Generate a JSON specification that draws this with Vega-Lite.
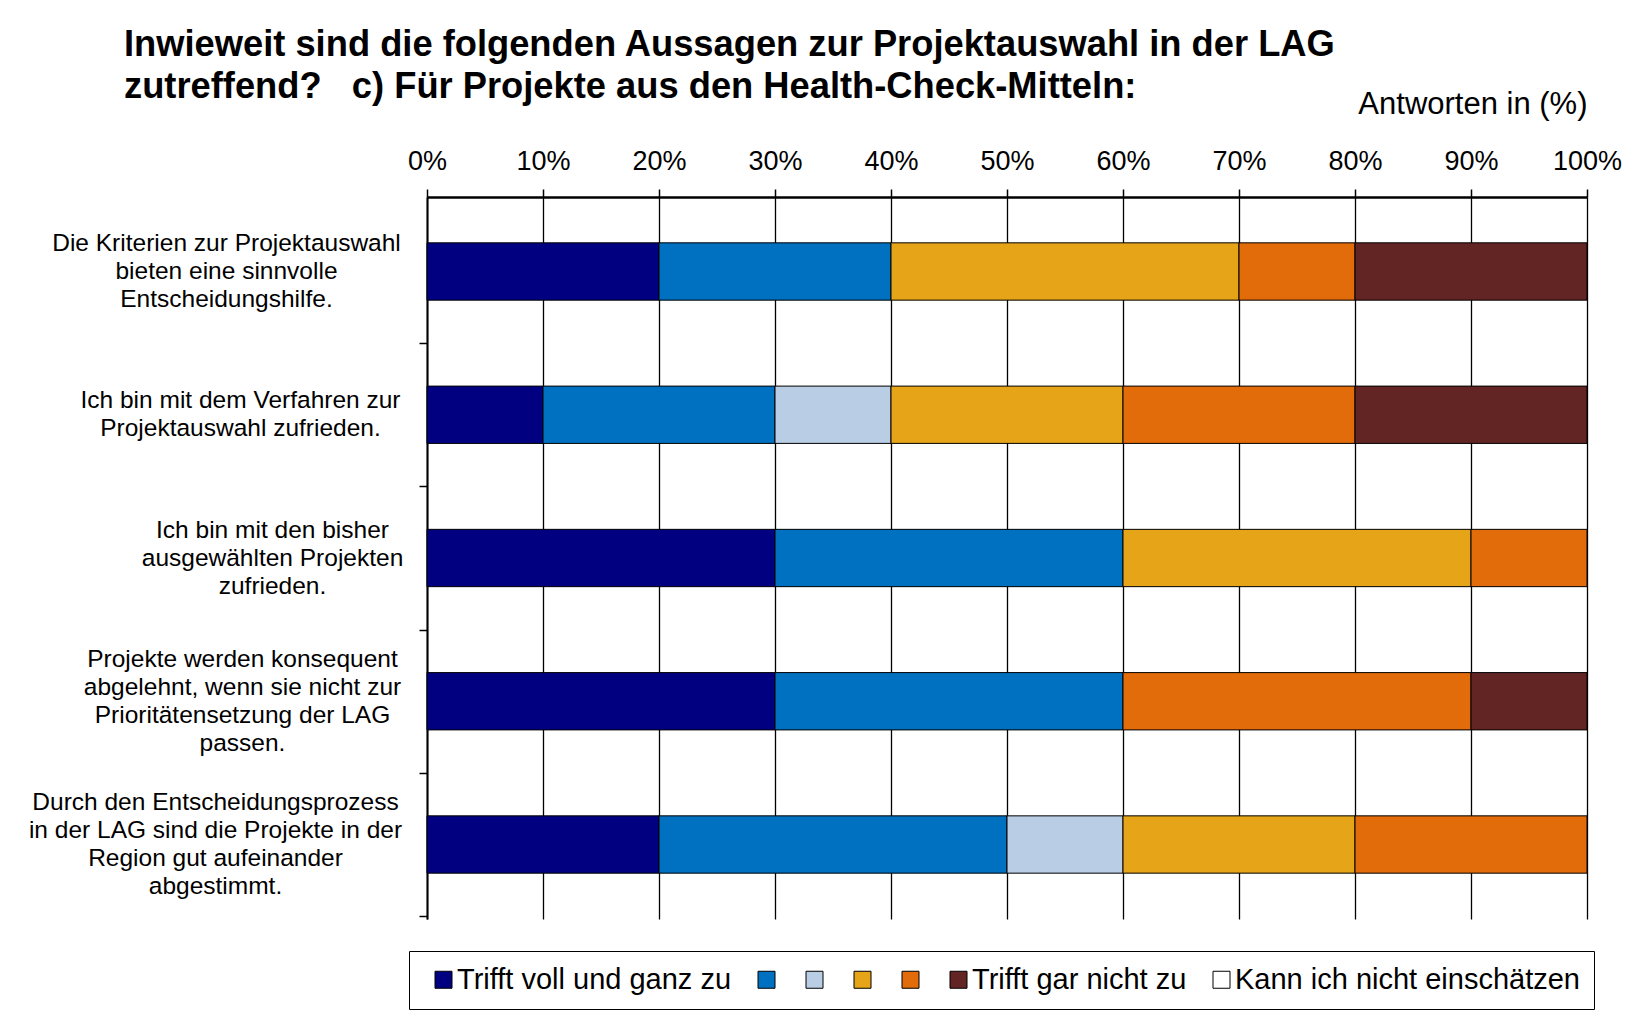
{
  "$schema": "https://vega.github.io/schema/vega-lite/v6.json",
  "autosize": {"type": "none"},
  "width": 1160,
  "height": 722,
  "padding": {"left": 427, "top": 197, "right": 65, "bottom": 113},
  "background": "white",
  "config": {
    "view": {"stroke": null},
    "font": "Liberation Sans"
  },
  "title": {
    "text": ["Inwieweit sind die folgenden Aussagen zur Projektauswahl in der LAG", "zutreffend?\u00a0\u00a0 c) Für Projekte aus den Health-Check-Mitteln:"],
    "anchor": "start",
    "frame": "group",
    "dx": -303,
    "dy": 27,
    "font": "Liberation Sans",
    "fontSize": 36.3,
    "fontWeight": "bold",
    "color": "black",
    "lineHeight": 42,
    "offset": 10
  },
  "data": {
    "values": [
      {"aussage": "Die Kriterien zur Projektauswahl|bieten eine sinnvolle|Entscheidungshilfe.", "antwort": "Trifft voll und ganz zu", "rang": 1, "anteil": 20},
      {"aussage": "Die Kriterien zur Projektauswahl|bieten eine sinnvolle|Entscheidungshilfe.", "antwort": "2", "rang": 2, "anteil": 20},
      {"aussage": "Die Kriterien zur Projektauswahl|bieten eine sinnvolle|Entscheidungshilfe.", "antwort": "4", "rang": 4, "anteil": 30},
      {"aussage": "Die Kriterien zur Projektauswahl|bieten eine sinnvolle|Entscheidungshilfe.", "antwort": "5", "rang": 5, "anteil": 10},
      {"aussage": "Die Kriterien zur Projektauswahl|bieten eine sinnvolle|Entscheidungshilfe.", "antwort": "Trifft gar nicht zu", "rang": 6, "anteil": 20},
      {"aussage": "Ich bin mit dem Verfahren zur|Projektauswahl zufrieden.", "antwort": "Trifft voll und ganz zu", "rang": 1, "anteil": 10},
      {"aussage": "Ich bin mit dem Verfahren zur|Projektauswahl zufrieden.", "antwort": "2", "rang": 2, "anteil": 20},
      {"aussage": "Ich bin mit dem Verfahren zur|Projektauswahl zufrieden.", "antwort": "3", "rang": 3, "anteil": 10},
      {"aussage": "Ich bin mit dem Verfahren zur|Projektauswahl zufrieden.", "antwort": "4", "rang": 4, "anteil": 20},
      {"aussage": "Ich bin mit dem Verfahren zur|Projektauswahl zufrieden.", "antwort": "5", "rang": 5, "anteil": 20},
      {"aussage": "Ich bin mit dem Verfahren zur|Projektauswahl zufrieden.", "antwort": "Trifft gar nicht zu", "rang": 6, "anteil": 20},
      {"aussage": "Ich bin mit den bisher|ausgewählten Projekten|zufrieden.", "antwort": "Trifft voll und ganz zu", "rang": 1, "anteil": 30},
      {"aussage": "Ich bin mit den bisher|ausgewählten Projekten|zufrieden.", "antwort": "2", "rang": 2, "anteil": 30},
      {"aussage": "Ich bin mit den bisher|ausgewählten Projekten|zufrieden.", "antwort": "4", "rang": 4, "anteil": 30},
      {"aussage": "Ich bin mit den bisher|ausgewählten Projekten|zufrieden.", "antwort": "5", "rang": 5, "anteil": 10},
      {"aussage": "Projekte werden konsequent|abgelehnt, wenn sie nicht zur|Prioritätensetzung der LAG|passen.", "antwort": "Trifft voll und ganz zu", "rang": 1, "anteil": 30},
      {"aussage": "Projekte werden konsequent|abgelehnt, wenn sie nicht zur|Prioritätensetzung der LAG|passen.", "antwort": "2", "rang": 2, "anteil": 30},
      {"aussage": "Projekte werden konsequent|abgelehnt, wenn sie nicht zur|Prioritätensetzung der LAG|passen.", "antwort": "5", "rang": 5, "anteil": 30},
      {"aussage": "Projekte werden konsequent|abgelehnt, wenn sie nicht zur|Prioritätensetzung der LAG|passen.", "antwort": "Trifft gar nicht zu", "rang": 6, "anteil": 10},
      {"aussage": "Durch den Entscheidungsprozess|in der LAG sind die Projekte in der|Region gut aufeinander|abgestimmt.", "antwort": "Trifft voll und ganz zu", "rang": 1, "anteil": 20},
      {"aussage": "Durch den Entscheidungsprozess|in der LAG sind die Projekte in der|Region gut aufeinander|abgestimmt.", "antwort": "2", "rang": 2, "anteil": 30},
      {"aussage": "Durch den Entscheidungsprozess|in der LAG sind die Projekte in der|Region gut aufeinander|abgestimmt.", "antwort": "3", "rang": 3, "anteil": 10},
      {"aussage": "Durch den Entscheidungsprozess|in der LAG sind die Projekte in der|Region gut aufeinander|abgestimmt.", "antwort": "4", "rang": 4, "anteil": 20},
      {"aussage": "Durch den Entscheidungsprozess|in der LAG sind die Projekte in der|Region gut aufeinander|abgestimmt.", "antwort": "5", "rang": 5, "anteil": 20}
    ]
  },
  "mark": {"type": "bar", "stroke": "black", "strokeWidth": 1, "opacity": 1},
  "encoding": {
    "y": {
      "field": "aussage",
      "type": "nominal",
      "sort": null,
      "scale": {"paddingInner": 0.6, "paddingOuter": 0.32},
      "axis": {
        "title": null,
        "domain": true,
        "domainColor": "black",
        "domainWidth": 2,
        "ticks": true,
        "tickColor": "black",
        "tickWidth": 1.5,
        "tickSize": 8,
        "bandPosition": 1,
        "tickOffset": 43,
        "tickExtra": false,
        "grid": false,
        "labelExpr": "split(datum.label, '|')",
        "labelFont": "Liberation Sans",
        "labelFontSize": 24.5,
        "labelColor": "black",
        "labelLineHeight": 28,
        "labelAlign": "center",
        "labelBaseline": "middle",
        "labelLimit": 0,
        "labelOffset": {
          "condition": [
            {"test": "indexof(datum.value, 'Die Kriterien') == 0", "value": -71},
            {"test": "indexof(datum.value, 'Ich bin mit dem') == 0", "value": -57},
            {"test": "indexof(datum.value, 'Ich bin mit den ') == 0", "value": -71}
          ],
          "value": -85
        },
        "labelPadding": {
          "condition": [
            {"test": "indexof(datum.value, 'Die Kriterien') == 0", "value": 193},
            {"test": "indexof(datum.value, 'Ich bin mit dem') == 0", "value": 179},
            {"test": "indexof(datum.value, 'Ich bin mit den ') == 0", "value": 147},
            {"test": "indexof(datum.value, 'Projekte werden') == 0", "value": 177}
          ],
          "value": 204
        }
      }
    },
    "x": {
      "field": "anteil",
      "type": "quantitative",
      "stack": "zero",
      "scale": {"domain": [0, 100], "nice": false},
      "axis": {
        "orient": "top",
        "values": [0, 10, 20, 30, 40, 50, 60, 70, 80, 90, 100],
        "labelExpr": "datum.value + '%'",
        "labelFont": "Liberation Sans",
        "labelFontSize": 27,
        "labelColor": "black",
        "labelPadding": 14,
        "labelFlush": false,
        "tickSize": 8,
        "tickColor": "black",
        "tickWidth": 1.5,
        "domainColor": "black",
        "domainWidth": 2.5,
        "grid": true,
        "gridColor": "black",
        "gridWidth": 1.3,
        "gridOpacity": 1,
        "title": "Antworten in (%)",
        "titleFont": "Liberation Sans",
        "titleFontSize": 31,
        "titleFontWeight": "normal",
        "titleColor": "black",
        "titleAnchor": "end",
        "titleAlign": "right",
        "titlePadding": 27
      }
    },
    "color": {
      "field": "antwort",
      "type": "nominal",
      "scale": {
        "domain": ["Trifft voll und ganz zu", "2", "3", "4", "5", "Trifft gar nicht zu", "Kann ich nicht einschätzen"],
        "range": ["#000080", "#0070C0", "#B9CDE5", "#E6A519", "#E36C0A", "#632523", "#FFFFFF"]
      },
      "legend": {
        "orient": "none",
        "legendX": -18,
        "legendY": 754,
        "direction": "horizontal",
        "columns": 7,
        "title": null,
        "symbolType": "square",
        "symbolSize": 289,
        "symbolStrokeColor": "black",
        "symbolStrokeWidth": 1,
        "symbolOpacity": 1,
        "symbolOffset": 6,
        "labelFont": "Liberation Sans",
        "labelFontSize": 29,
        "labelColor": "black",
        "labelOffset": -1,
        "labelLimit": 0,
        "columnPadding": 14,
        "padding": 14,
        "strokeColor": "black",
        "fillColor": "white",
        "labelExpr": "length(datum.label) < 2 ? '' : datum.label"
      }
    },
    "order": {"field": "rang", "type": "quantitative", "sort": "ascending"}
  }
}
